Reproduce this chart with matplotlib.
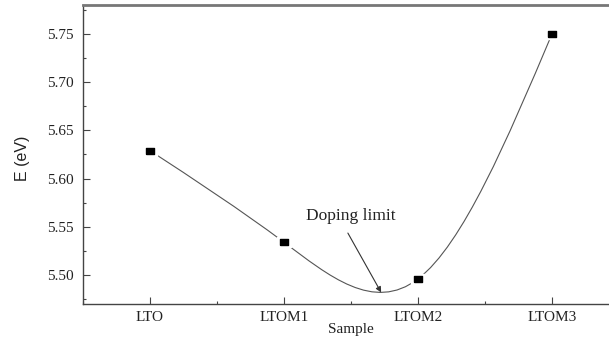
import numpy as np
import matplotlib
matplotlib.use('Agg')
import matplotlib.pyplot as plt
from matplotlib.path import Path
from matplotlib.patches import PathPatch
from matplotlib.ticker import MultipleLocator

# Band energy per sample
samples = ['LTO', 'LTOM1', 'LTOM2', 'LTOM3']
energy = [5.629, 5.534, 5.496, 5.750]

# Annotation (text position and arrow tip, data coords)
note = 'Doping limit'
note_xy = (1.50, 5.561)
note_tip = (1.725, 5.482)

x = np.arange(len(samples), dtype=float)
y = np.array(energy)

# natural cubic spline through the points, handed to matplotlib as Bezier segments
n = len(x)
A = np.zeros((n, n))
b = np.zeros(n)
A[0, 0] = A[-1, -1] = 1
for i in range(1, n-1):
    A[i, i-1], A[i, i], A[i, i+1] = 1, 4, 1
    b[i] = 6*((y[i+1]-y[i]) - (y[i]-y[i-1]))
M = np.linalg.solve(A, b)

verts = [(x[0], y[0])]
codes = [Path.MOVETO]
for i in range(n-1):
    d = y[i+1] - y[i]
    s0 = d - (2*M[i] + M[i+1])/6
    s1 = d + (M[i] + 2*M[i+1])/6
    verts += [(x[i] + 1/3, y[i] + s0/3), (x[i+1] - 1/3, y[i+1] - s1/3), (x[i+1], y[i+1])]
    codes += [Path.CURVE4]*3

plt.rcParams['font.family'] = 'Liberation Serif'
fig = plt.figure(figsize=(6.09, 3.41), dpi=100)
ax = fig.add_axes([83/609, 37/341, 536/609, 299/341])

ax.add_patch(PathPatch(Path(verts, codes), fill=False, edgecolor='#555555', lw=0.8, zorder=2))

box = [(-1, -0.75), (1, -0.75), (1, 0.75), (-1, 0.75), (-1, -0.75)]
ax.plot(x, y, linestyle='none', marker=box, markersize=10, color='white', zorder=3)
ax.plot(x, y, linestyle='none', marker=box, markersize=6, color='black', zorder=4)

ax.annotate(note, xy=note_tip, xytext=note_xy, ha='center', va='center',
            fontsize=12.5, color='#222222',
            arrowprops=dict(arrowstyle='-|>', color='#333333', lw=0.8,
                            mutation_scale=8, shrinkA=5, shrinkB=0,
                            relpos=(0.41, 0.0)))

ax.set_xlim(-0.5, 3.5)
ax.set_ylim(5.47, 5.78)
ax.set_xticks(x)
ax.set_xticklabels(samples)
ax.xaxis.set_minor_locator(MultipleLocator(0.5))
ax.yaxis.set_major_locator(MultipleLocator(0.05))
ax.yaxis.set_minor_locator(MultipleLocator(0.025))
ax.yaxis.set_major_formatter(matplotlib.ticker.FormatStrFormatter('%.2f'))

ax.tick_params(which='both', direction='in', colors='#444444', labelcolor='#222222')
ax.tick_params(which='major', length=5, width=0.8, labelsize=11)
ax.tick_params(which='minor', length=2.5, width=0.8)
ax.tick_params(axis='x', pad=5)
ax.tick_params(axis='y', pad=7)

for side in ['left', 'bottom']:
    ax.spines[side].set_color('#444444')
    ax.spines[side].set_linewidth(1.0)
ax.spines['top'].set_color('#777777')
ax.spines['top'].set_linewidth(2.0)
ax.spines['right'].set_visible(False)

ax.set_xlabel('Sample', fontsize=11, color='#222222')
ax.xaxis.set_label_coords(0.5, -0.063)
fig.text(22/609, 1 - 158/341, 'E (eV)', rotation=90, ha='center', va='center',
         fontsize=11.5, color='#222222', family='Liberation Sans')

fig.savefig('out.png', dpi=100)
